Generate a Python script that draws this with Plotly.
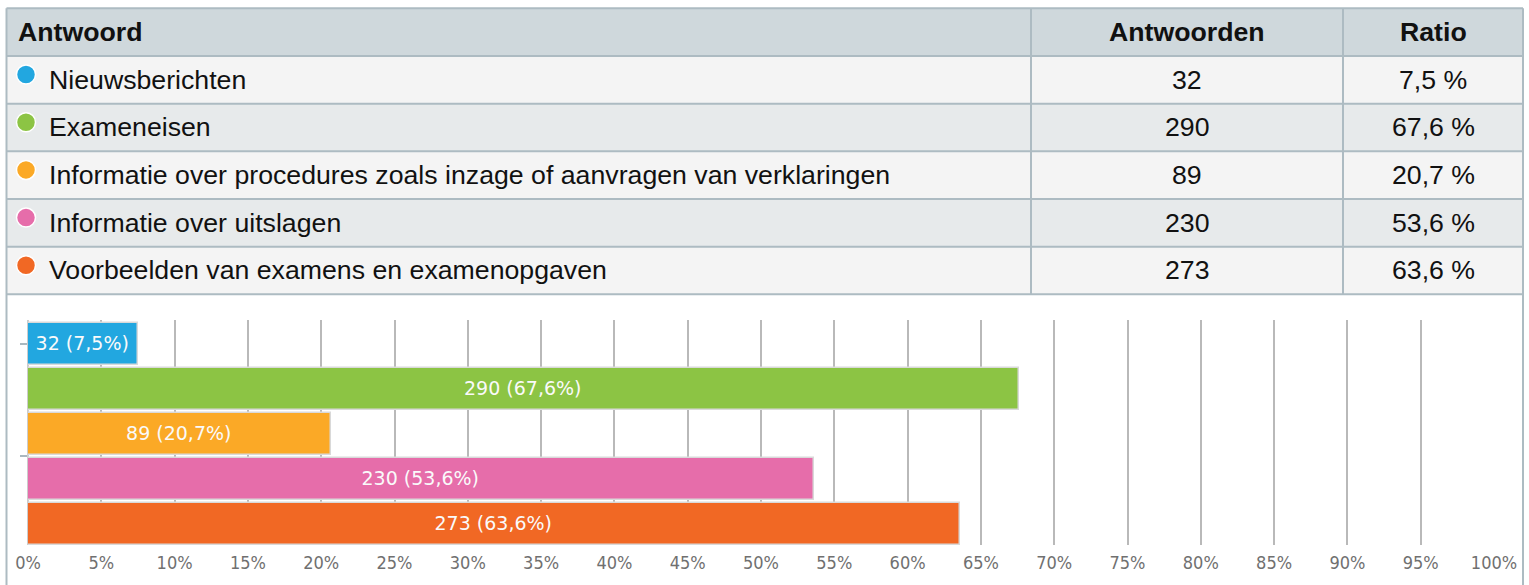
import plotly.graph_objects as go

# ---- data ----
categories = [
    "Nieuwsberichten",
    "Exameneisen",
    "Informatie over procedures zoals inzage of aanvragen van verklaringen",
    "Informatie over uitslagen",
    "Voorbeelden van examens en examenopgaven",
]
counts = [32, 290, 89, 230, 273]
ratios = [7.5, 67.6, 20.7, 53.6, 63.6]
colors = ["#22a7e0", "#8cc444", "#fba926", "#e66daa", "#f16824"]
headers = ["Antwoord", "Antwoorden", "Ratio"]
x_ticks = list(range(0, 101, 5))

W, H = 1529, 585


def nl(v):
    return f"{v:.1f}".replace(".", ",")


fig = go.Figure()

# ---- bar chart ----
ypos = list(range(len(categories)))
fig.add_trace(go.Bar(
    x=ratios, y=ypos, orientation="h",
    marker=dict(color=colors, line=dict(color="#d9d9d9", width=1.5)),
    width=0.93,
    text=[f"{c} ({nl(r)}%)" for c, r in zip(counts, ratios)],
    textposition="inside", insidetextanchor="middle",
    textfont=dict(family="DejaVu Sans", size=19, color="#fafafa"),
    constraintext="none", textangle=0,
    hoverinfo="skip", showlegend=False,
    xaxis="x", yaxis="y",
))

# ---- table overlay axis (row units) ----
row_h = 47.67
row0_c = 79.8
top_r = (0 - row0_c) / row_h
bot_r = (H - row0_c) / row_h

# dots
fig.add_trace(go.Scatter(
    x=[26] * len(categories), y=[i - 0.11 for i in ypos],
    mode="markers",
    marker=dict(color=colors, size=19, line=dict(color="white", width=1.5)),
    hoverinfo="skip", showlegend=False,
    xaxis="x3", yaxis="y3",
))

border = "#adbbc2"
shapes = []
xl, xr = 6.5, 1523
col_div = [1031, 1343]
# header bg
shapes.append(dict(type="rect", xref="x3", yref="y3", x0=xl, x1=xr, y0=-1.5, y1=-0.5,
                   fillcolor="#cfd8dc", line_width=0, layer="below"))
for i in ypos:
    shapes.append(dict(type="rect", xref="x3", yref="y3", x0=xl, x1=xr, y0=i - 0.5, y1=i + 0.5,
                       fillcolor="#f4f4f4" if i % 2 == 0 else "#e7eaeb", line_width=0, layer="below"))
for k in range(-1, len(categories) + 1):
    shapes.append(dict(type="line", xref="x3", yref="y3", x0=xl, x1=xr, y0=k - 0.5, y1=k - 0.5,
                       line=dict(color=border, width=2), layer="above"))
for xd in col_div:
    shapes.append(dict(type="line", xref="x3", yref="y3", x0=xd, x1=xd, y0=-1.5, y1=len(categories) - 0.5,
                       line=dict(color=border, width=2), layer="above"))
for xd in (xl, xr):
    shapes.append(dict(type="line", xref="x3", yref="y3", x0=xd, x1=xd, y0=-1.5, y1=bot_r,
                       line=dict(color=border, width=2), layer="above"))

ann = []
tfont = dict(family="Liberation Sans, Arial", size=26.7, color="#111111")
hfont = dict(family="Liberation Sans, Arial", size=26.7, color="#111111", weight="bold")
ann.append(dict(x=16, y=-1, xref="x3", yref="y3", text="<b>" + headers[0] + "</b>", showarrow=False,
                xanchor="left", yanchor="middle", font=hfont))
ann.append(dict(x=1187, y=-1, xref="x3", yref="y3", text="<b>" + headers[1] + "</b>", showarrow=False,
                xanchor="center", yanchor="middle", font=hfont))
ann.append(dict(x=1433, y=-1, xref="x3", yref="y3", text="<b>" + headers[2] + "</b>", showarrow=False,
                xanchor="center", yanchor="middle", font=hfont))
for i, (c, n, r) in enumerate(zip(categories, counts, ratios)):
    ann.append(dict(x=47, y=i, xref="x3", yref="y3", text=c, showarrow=False,
                    xanchor="left", yanchor="middle", font=tfont))
    ann.append(dict(x=1187, y=i, xref="x3", yref="y3", text=str(n), showarrow=False,
                    xanchor="center", yanchor="middle", font=tfont))
    ann.append(dict(x=1433, y=i, xref="x3", yref="y3", text=nl(r) + " %", showarrow=False,
                    xanchor="center", yanchor="middle", font=tfont))

fig.update_layout(
    width=W, height=H,
    margin=dict(l=0, r=0, t=0, b=0, pad=0, autoexpand=False),
    paper_bgcolor="white", plot_bgcolor="rgba(0,0,0,0)",
    bargap=0,
    xaxis=dict(domain=[28 / W, 1494 / W], range=[0, 100], tickvals=x_ticks,
               ticktext=[f"{t}%" for t in x_ticks],
               showgrid=True, gridcolor="#b9b9b9", gridwidth=2,
               zeroline=True, zerolinecolor="#cccccc", zerolinewidth=1.5,
               showline=False, ticks="", ticklabelstandoff=5, automargin=False,
               tickfont=dict(family="DejaVu Sans Condensed, DejaVu Sans", size=18, color="#707070"),
               anchor="y", fixedrange=True),
    yaxis=dict(domain=[1 - 545 / H, 1 - 320 / H], range=[4.467, -0.533],
               tickvals=[0, 2.5], ticks="outside", ticklen=7, tickcolor="#aab8bf", tickwidth=2,
               showticklabels=False, showgrid=False, zeroline=False, showline=False,
               automargin=False, anchor="x", fixedrange=True),
    xaxis3=dict(domain=[0, 1], range=[0, W], visible=False, anchor="y3", fixedrange=True,
                automargin=False),
    yaxis3=dict(domain=[0, 1], range=[bot_r, top_r], visible=False, anchor="x3", fixedrange=True,
                automargin=False),
    shapes=shapes,
    annotations=ann,
)

fig.write_html(
    "out.html",
    config={"displayModeBar": False},
    post_script="document.body.style.margin='0';document.body.style.overflow='hidden';",
)
